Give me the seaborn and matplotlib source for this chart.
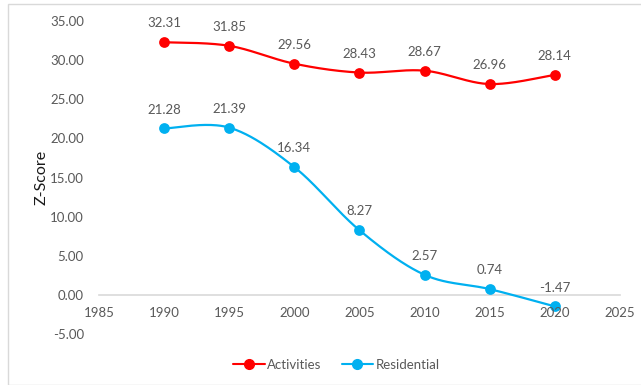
import numpy as np
import pandas as pd
import matplotlib
matplotlib.use("Agg")
import matplotlib.pyplot as plt
import seaborn as sns

years = [1990, 1995, 2000, 2005, 2010, 2015, 2020]
activities = [32.31, 31.85, 29.56, 28.43, 28.67, 26.96, 28.14]
residential = [21.28, 21.39, 16.34, 8.27, 2.57, 0.74, -1.47]
series_names = ["Activities", "Residential"]
series_colors = ["#FF0000", "#00B0F0"]

sns.set_theme(style="white")
plt.rcParams["font.family"] = ["Lato", "DejaVu Sans"]


def smooth_curve(x, y, n=40):
    """Cardinal (Catmull-Rom style) Bezier smoothing through the points."""
    x = np.asarray(x, float)
    y = np.asarray(y, float)
    pts = np.column_stack([x, y])
    out = []
    for i in range(len(pts) - 1):
        p0 = pts[i - 1] if i > 0 else pts[i]
        p1 = pts[i]
        p2 = pts[i + 1]
        p3 = pts[i + 2] if i + 2 < len(pts) else pts[i + 1]
        c1 = p1 + (p2 - p0) / 6.0
        c2 = p2 - (p3 - p1) / 6.0
        t = np.linspace(0, 1, n)[:, None]
        seg = ((1 - t) ** 3) * p1 + 3 * ((1 - t) ** 2) * t * c1 + 3 * (1 - t) * t ** 2 * c2 + t ** 3 * p2
        out.append(seg if i == 0 else seg[1:])
    seg = np.vstack(out)
    return seg[:, 0], seg[:, 1]


df = pd.DataFrame({
    "Year": years * 2,
    "Z": activities + residential,
    "Series": [series_names[0]] * len(years) + [series_names[1]] * len(years),
})

fig = plt.figure(figsize=(6.41, 3.85), dpi=100)
ax = fig.add_axes([0.1545, 0.1325, 0.967 - 0.1545, 0.945 - 0.1325])

for name, color in zip(series_names, series_colors):
    sub = df[df["Series"] == name]
    sx, sy = smooth_curve(sub["Year"], sub["Z"])
    sns.lineplot(x=sx, y=sy, color=color, linewidth=1.6, ax=ax, sort=False, zorder=2.1)
    sns.scatterplot(x=sub["Year"], y=sub["Z"], color=color, s=60, edgecolor=color,
                    linewidth=0, ax=ax, zorder=2.2)
    for xv, yv in zip(sub["Year"], sub["Z"]):
        ax.annotate(f"{yv:.2f}", (xv, yv), xytext=(0, 13.5), textcoords="offset points",
                    ha="center", va="center", fontsize=9.5, color="#595959")

ax.set_xlim(1985, 2025)
ax.set_ylim(-5, 35)
ax.set_xticks(range(1985, 2026, 5))
ax.set_yticks(range(-5, 36, 5))
ax.set_yticklabels([f"{v:.2f}" for v in range(-5, 36, 5)])
ax.tick_params(axis="both", length=0, labelsize=9.5, labelcolor="#595959")
ax.tick_params(axis="y", pad=11)
ax.tick_params(axis="x", pad=9)
ax.xaxis.set_zorder(3)
for side in ["left", "right", "top"]:
    ax.spines[side].set_visible(False)
ax.spines["bottom"].set_position(("data", 0))
ax.spines["bottom"].set_color("#D9D9D9")
ax.spines["bottom"].set_linewidth(1.2)
ax.spines["bottom"].set_zorder(1.5)
ax.set_xlabel("")
ax.set_ylabel("Z-Score", fontsize=11.5, color="#1A1A1A", labelpad=1)

handles = [plt.Line2D([], [], color=c, marker="o", markersize=7, linewidth=1.5) for c in series_colors]
fig.legend(handles, series_names, loc="center", bbox_to_anchor=(0.525, 0.052), ncol=2,
           frameon=False, fontsize=9.5, labelcolor="#595959", handlelength=2.4,
           handletextpad=0.2, columnspacing=1.5)

border = plt.Rectangle((8 / 641, 0.0), 1.2, 1 - 4 / 385, transform=fig.transFigure,
                       fill=False, edgecolor="#D9D9D9", linewidth=1.0)
fig.patches.append(border)

fig.savefig("out.png", dpi=100)
